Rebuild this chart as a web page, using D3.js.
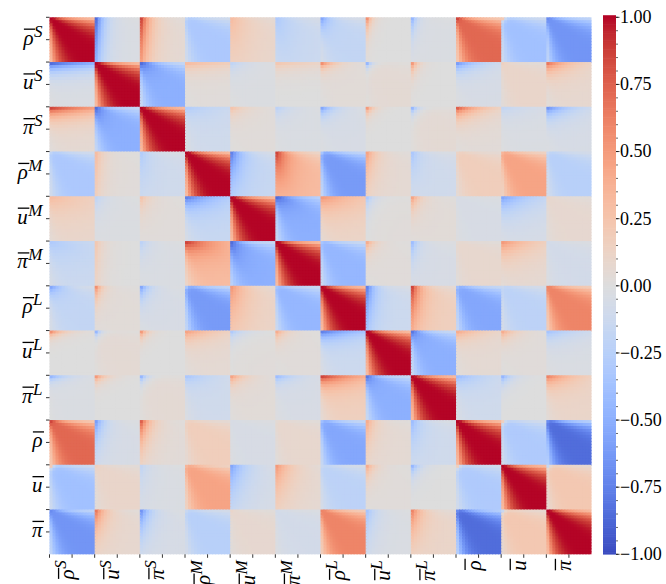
<!DOCTYPE html>
<html>
<head>
<meta charset="utf-8">
<script src="https://cdn.jsdelivr.net/npm/d3@7"></script>
<style>
  html, body { margin: 0; padding: 0; background: #fff; }
  svg { display: block; }
</style>
</head>
<body>
<svg id="chart" width="666" height="584"></svg>
<script>
// ---- variables (rows / columns of the correlation matrix) ----
const varBase  = ["ρ", "u", "π", "ρ", "u", "π", "ρ", "u", "π", "ρ", "u", "π"];
const varScale = ["S", "S", "S", "M", "M", "M", "L", "L", "L", "", "", ""];
const STEPS = 15; // time samples per variable

// ---- block correlations, upper triangle: [row var, col var, long-run corr, initial corr, row decay, col decay] ----
const blockCorr = [
  [0, 1, -0.03, -0.85, 25, 2.5], [0, 2, 0.05, 0.85, 25, 3], [0, 3, -0.32, -0.20, 1, 1],
  [0, 4, 0.08, 0.30, 25, 6], [0, 5, -0.12, -0.30, 25, 6], [0, 6, -0.18, -0.55, 4, 2.5],
  [0, 7, 0.00, 0.55, 4, 1.5], [0, 8, -0.03, -0.45, 5, 1.5], [0, 9, 0.72, 0.85, 1, 1],
  [0, 10, -0.38, 0.20, 1, 1], [0, 11, -0.65, -0.70, 1, 1],
  [1, 2, -0.50, -0.85, 2.5, 5], [1, 3, 0.02, 0.30, 2.5, 25], [1, 4, -0.02, -0.20, 3, 5],
  [1, 5, 0.00, 0.22, 2.5, 20], [1, 6, 0.03, 0.55, 1.8, 4], [1, 7, 0.05, -0.45, 1.5, 1.5],
  [1, 8, 0.00, 0.50, 3, 1.8], [1, 9, -0.05, -0.60, 2.5, 8], [1, 10, 0.10, 0.15, 1, 1],
  [1, 11, 0.07, 0.65, 3, 8],
  [2, 3, -0.10, -0.28, 3, 25], [2, 4, 0.02, 0.25, 3, 5], [2, 5, -0.03, -0.22, 3, 5],
  [2, 6, -0.05, -0.55, 2.5, 4], [2, 7, 0.00, 0.50, 2, 2], [2, 8, 0.05, -0.45, 2, 2],
  [2, 9, 0.03, 0.75, 3, 8], [2, 10, -0.03, -0.18, 3, 12], [2, 11, -0.05, -0.65, 3, 8],
  [3, 4, -0.15, -0.75, 15, 3.5], [3, 5, 0.30, 0.85, 20, 4], [3, 6, -0.62, -0.35, 1, 1],
  [3, 7, 0.05, 0.45, 12, 3], [3, 8, -0.10, -0.32, 12, 2.5], [3, 9, 0.17, 0.12, 1, 1],
  [3, 10, 0.45, 0.35, 1, 1], [3, 11, -0.25, -0.15, 1, 1],
  [4, 5, -0.50, -0.85, 3, 10], [4, 6, 0.10, 0.50, 5, 20], [4, 7, 0.02, -0.30, 4, 2.5],
  [4, 8, 0.03, 0.45, 4, 2.5], [4, 9, -0.05, -0.05, 1, 1], [4, 10, -0.05, -0.55, 5, 12],
  [4, 11, 0.07, 0.10, 1, 1],
  [5, 6, -0.45, -0.35, 1, 1], [5, 7, 0.02, 0.40, 3, 2.5], [5, 8, -0.05, -0.40, 6, 2],
  [5, 9, 0.08, 0.05, 1, 1], [5, 10, 0.05, 0.50, 5, 12], [5, 11, -0.08, -0.08, 1, 1],
  [6, 7, -0.12, -0.75, 20, 2.5], [6, 8, 0.15, 0.85, 20, 3], [6, 9, -0.55, -0.40, 1, 1],
  [6, 10, -0.22, -0.15, 1, 1], [6, 11, 0.60, 0.60, 1, 1],
  [7, 8, -0.50, -0.80, 2.5, 2.5], [7, 9, 0.05, 0.40, 2.5, 10], [7, 10, 0.02, 0.40, 2.5, 4],
  [7, 11, -0.03, -0.35, 3, 12],
  [8, 9, -0.10, -0.40, 3, 12], [8, 10, 0.00, -0.45, 2.5, 3], [8, 11, 0.10, 0.60, 3, 10],
  [9, 10, -0.30, 0.15, 1, 1], [9, 11, -0.85, -0.70, 1, 1],
  [10, 11, 0.22, -0.15, 1, 1]
];

// self-correlation of a running mean between samples a and b (far-edge value and knee of the staircase)
const selfEdge = 0.32, selfKnee = 5;

// ---- colorbar ticks ----
const cbMajor = [1.0, 0.75, 0.5, 0.25, 0.0, -0.25, -0.5, -0.75, -1.0];
const cbMinorStep = 0.05;

// ---- coolwarm colour stops ----
const cwStops = [
  [59,76,192],[68,90,204],[77,104,215],[87,117,225],[98,130,234],[108,142,241],[119,154,247],
  [130,165,251],[141,176,254],[152,185,255],[163,194,255],[174,201,253],[184,208,249],
  [194,213,244],[204,217,238],[213,219,230],[221,221,221],[229,216,209],[236,211,197],
  [241,204,184],[245,196,172],[247,187,160],[247,177,148],[247,166,135],[244,154,123],
  [241,141,111],[236,127,99],[229,112,88],[222,96,77],[213,80,66],[203,62,56],[192,40,47],[180,4,38]
];

// ---------------------------------------------------------------
const nVar = varBase.length;
const nCell = nVar * STEPS;

const params = {};
blockCorr.forEach(([i, j, r, c, ka, kb]) => { params[i + "," + j] = { r, c, ka, kb }; });

function selfShape(a, b) {
  const x = (Math.min(a, b) + 1) / (Math.max(a, b) + 1);
  const x0 = 1 / STEPS;
  return Math.min(1, 1 - (1 - selfEdge) * Math.pow((1 - x) / (1 - x0), selfKnee));
}

function corrAt(I, J, a, b) {
  if (I === J) return selfShape(a, b);
  if (I > J) return corrAt(J, I, b, a);
  const p = params[I + "," + J];
  const v = p.r * selfShape(a, b) + (p.c - p.r) * Math.exp(-a / p.ka - b / p.kb);
  return Math.max(-1, Math.min(1, v));
}

const cells = [];
for (let I = 0; I < nVar; I++)
  for (let a = 0; a < STEPS; a++)
    for (let J = 0; J < nVar; J++)
      for (let b = 0; b < STEPS; b++)
        cells.push({ row: I * STEPS + a, col: J * STEPS + b, v: corrAt(I, J, a, b) });

const svg = d3.select("#chart");
const plotL = 49.5, plotR = 591.5, plotT = 17.3, plotB = 554.3;

const x = d3.scaleBand().domain(d3.range(nCell)).range([plotL, plotR]);
const y = d3.scaleBand().domain(d3.range(nCell)).range([plotT, plotB]);
const bw = x.bandwidth(), bh = y.bandwidth();

const color = d3.scaleLinear()
  .domain(cwStops.map((_, k) => -1 + 2 * k / (cwStops.length - 1)))
  .range(cwStops.map(c => d3.rgb(c[0], c[1], c[2])))
  .interpolate(d3.interpolateRgb)
  .clamp(true);

// heatmap cells (each cell overlaps its right/lower neighbour slightly so no seams show)
svg.append("g")
  .selectAll("rect")
  .data(cells)
  .join("rect")
  .attr("x", d => x(d.col))
  .attr("y", d => y(d.row))
  .attr("width", d => d.col === nCell - 1 ? bw : bw + 1)
  .attr("height", d => d.row === nCell - 1 ? bh : bh + 1)
  .attr("fill", d => color(d.v));

// axes: ticks every half variable block, labels at block centres
const blockW = (plotR - plotL) / nVar, blockH = (plotB - plotT) / nVar;
const tickIdx = d3.range(nVar * 2);

const fontFam = "'Liberation Serif', 'Times New Roman', serif";
const baseSize = 21, supSize = 17;

function mathLabel(g, base, sup) {
  const t = g.append("text")
    .attr("text-anchor", "end")
    .attr("font-family", fontFam)
    .attr("font-style", "italic")
    .attr("fill", "#000");
  t.append("tspan").attr("font-size", baseSize).text(base);
  if (sup) t.append("tspan").attr("font-size", supSize).attr("dx", 0.5).attr("dy", -8).text(sup);
  const n = t.node();
  const s = n.getStartPositionOfChar(0), e = n.getEndPositionOfChar(0);
  g.append("line")
    .attr("x1", s.x + 0.5).attr("x2", e.x + 1.5)
    .attr("y1", s.y - 15.5).attr("y2", s.y - 15.5)
    .attr("stroke", "#000").attr("stroke-width", 1.3);
}

// y ticks
svg.append("g").selectAll("line").data(tickIdx).join("line")
  .attr("x1", plotL - 3.5).attr("x2", plotL)
  .attr("y1", k => plotT + k * blockH / 2).attr("y2", k => plotT + k * blockH / 2)
  .attr("stroke", "#000").attr("stroke-width", 0.8);

// x ticks
svg.append("g").selectAll("line").data(tickIdx).join("line")
  .attr("y1", plotB).attr("y2", plotB + 3.5)
  .attr("x1", k => plotL + k * blockW / 2).attr("x2", k => plotL + k * blockW / 2)
  .attr("stroke", "#000").attr("stroke-width", 0.8);

// y labels
varBase.forEach((b, i) => {
  const g = svg.append("g").attr("transform", `translate(${plotL - 7},${plotT + (i + 0.5) * blockH + 5})`);
  mathLabel(g, b, varScale[i]);
});

// x labels (rotated)
varBase.forEach((b, i) => {
  const g = svg.append("g").attr("transform", `translate(${plotL + (i + 0.5) * blockW + 2},${plotB + 6}) rotate(-90)`);
  mathLabel(g, b, varScale[i]);
});

// ---- colorbar ----
const cbX = 603, cbW = 13;
const cbScale = d3.scaleLinear().domain([-1, 1]).range([plotB, plotT]);
const cbVals = d3.range(-1, 1.0001, 2 / 300);
svg.append("g").selectAll("rect").data(cbVals).join("rect")
  .attr("x", cbX).attr("width", cbW)
  .attr("y", v => cbScale(v) - (plotB - plotT) / 300 - 0.3)
  .attr("height", (plotB - plotT) / 300 + 0.6)
  .attr("fill", v => color(v));

const minorVals = d3.range(-20, 21).map(k => k * cbMinorStep);
svg.append("g").selectAll("line").data(minorVals).join("line")
  .attr("x1", cbX + cbW).attr("x2", cbX + cbW + 2)
  .attr("y1", v => cbScale(v)).attr("y2", v => cbScale(v))
  .attr("stroke", "#000").attr("stroke-width", 0.6);

svg.append("g").selectAll("line").data(cbMajor).join("line")
  .attr("x1", cbX + cbW).attr("x2", cbX + cbW + 3.5)
  .attr("y1", v => cbScale(v)).attr("y2", v => cbScale(v))
  .attr("stroke", "#000").attr("stroke-width", 0.8);

svg.append("g").selectAll("text").data(cbMajor).join("text")
  .attr("x", cbX + cbW + 4)
  .attr("y", v => cbScale(v))
  .attr("dy", "0.33em")
  .attr("font-family", fontFam)
  .attr("font-size", 18)
  .attr("fill", "#000")
  .text(v => d3.format(".2f")(v).replace("-", "\u2212"));
</script>
</body>
</html>
